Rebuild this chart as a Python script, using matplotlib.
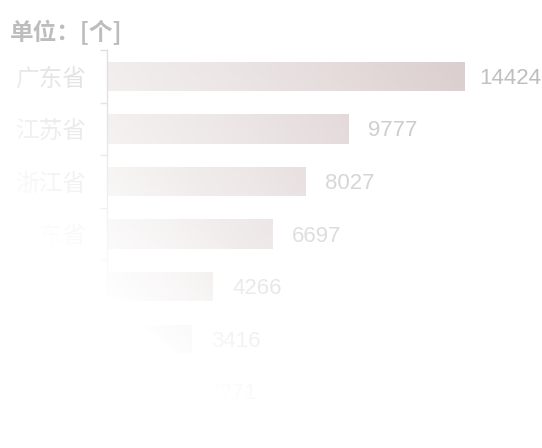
import numpy as np
import matplotlib
matplotlib.use("Agg")
import matplotlib.pyplot as plt
from matplotlib.colors import LinearSegmentedColormap

plt.rcParams['font.family'] = ['Noto Sans CJK SC', 'DejaVu Sans']

# ---- data ----
categories = ['广东省', '江苏省', '浙江省', '山东省', '北京市', '上海市', '湖北省', '四川省']
values = [14424, 9777, 8027, 6697, 4266, 3416, 3271, 3081]
unit_title = '单位：[个]'

W, H, DPI = 542, 448, 100
fig = plt.figure(figsize=(W / DPI, H / DPI), dpi=DPI)
fig.patch.set_facecolor('white')

row_px = 52.6
top_px = 50
n = len(categories)
ax_left = 107
ax_right = 464
ax_h = row_px * n
ax_bottom_px = H - (top_px + ax_h)
ax = fig.add_axes([ax_left / W, ax_bottom_px / H, (ax_right - ax_left) / W, ax_h / H])

y = np.arange(n)
bars = ax.barh(y, values, height=0.56, color='none', edgecolor='none')

cmap = LinearSegmentedColormap.from_list('barg', ['#d6c8c8', '#c3adad'])
grad = np.linspace(0, 1, 256).reshape(1, -1)
for b in bars:
    x0, y0 = b.get_x(), b.get_y()
    w, h = b.get_width(), b.get_height()
    im = ax.imshow(grad, extent=[x0, x0 + w, y0 + h, y0], aspect='auto',
                   cmap=cmap, zorder=2, interpolation='bicubic')
    im.set_clip_path(b)
ax.set_xlim(0, max(values))
ax.set_ylim(n - 0.5, -0.5)

OFF_X, OFF_Y = 14, -1.5
anns = []
for yi, v in zip(y, values):
    a = ax.annotate(str(v), xy=(v, yi), xytext=(OFF_X, OFF_Y), textcoords='offset points',
                    va='center', ha='left', fontsize=16, color='#999999',
                    family=['Liberation Sans', 'DejaVu Sans'], clip_on=False,
                    annotation_clip=False)
    anns.append(a)

for s in ['top', 'right', 'bottom']:
    ax.spines[s].set_visible(False)
ax.spines['left'].set_color('#999999')
ax.spines['left'].set_linewidth(1)
ax.set_xticks([])
ax.set_yticks(y)
ax.set_yticklabels(categories, fontsize=17, color='#999999')
ax.tick_params(axis='y', which='major', length=0, pad=15)
ax.set_yticks(np.arange(-0.5, n, 1.0), minor=True)
ax.tick_params(axis='y', which='minor', length=5, color='#999999', width=1)
ax.set_facecolor('none')

# keep value labels inside the canvas
fig.canvas.draw()
r = fig.canvas.get_renderer()
for a in anns:
    bb = a.get_window_extent(r)
    excess = bb.x1 - (W - 1)
    if excess > 0:
        a.xyann = (OFF_X - excess * 72.0 / DPI, OFF_Y)

# ---- fade overlay (white, increasing toward bottom-left) ----
ov = fig.add_axes([0, 0, 1, 1])
ov.set_axis_off()
yy, xx = np.mgrid[0:H, 0:W]
a_lin = 0.726 + 0.000908 * yy - 0.000813 * xx
alpha = np.clip(a_lin + 0.6 * np.clip(a_lin - 0.75, 0, None), 0, 1)
rgba = np.ones((H, W, 4))
rgba[..., 3] = alpha
ov.imshow(rgba, extent=[0, W, H, 0], aspect='auto', interpolation='bilinear')
ov.set_xlim(0, W)
ov.set_ylim(H, 0)

fig.text(10 / W, 1 - 32 / H, unit_title, fontsize=17, fontweight='bold',
         color='#bdbdbd', va='center', ha='left')

fig.savefig('out.png', dpi=DPI)
